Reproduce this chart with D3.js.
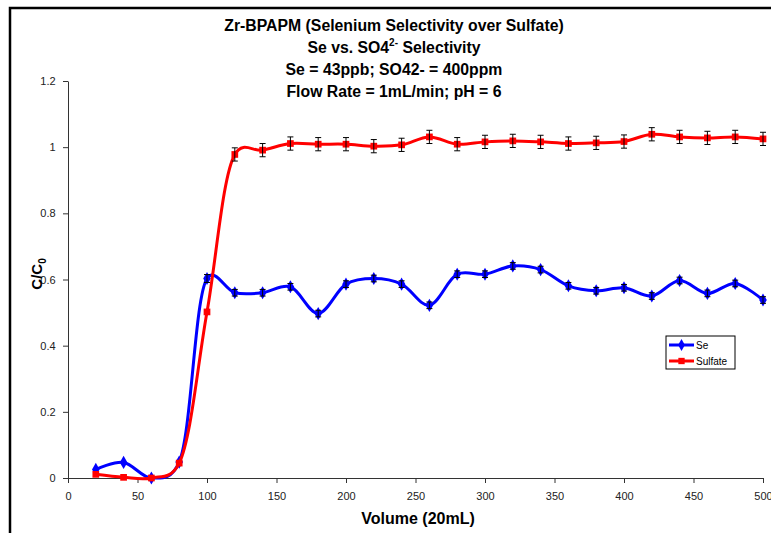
<!DOCTYPE html>
<html>
<head>
<meta charset="utf-8">
<script src="https://cdn.jsdelivr.net/npm/d3@7"></script>
<style>
body { margin: 0; background: #fff; }
svg { font-family: "Liberation Sans", Arial, sans-serif; }
</style>
</head>
<body>
<div id="graf"></div>
<script>
// volumes (x) shared by both series
var volume = [20, 40, 60, 80, 100, 120, 140, 160, 180, 200, 220, 240, 260, 280, 300, 320, 340, 360, 380, 400, 420, 440, 460, 480, 500]
var se = [0.026, 0.047, 0.0, 0.048, 0.603, 0.560, 0.560, 0.578, 0.497, 0.586, 0.603, 0.586, 0.522, 0.616, 0.616, 0.641, 0.630, 0.581, 0.566, 0.575, 0.550, 0.597, 0.558, 0.588, 0.538]
var seErr = [0, 0, 0, 0, 0.012, 0.01, 0.01, 0.01, 0.01, 0.01, 0.01, 0.01, 0.01, 0.01, 0.01, 0.01, 0.01, 0.01, 0.01, 0.01, 0.01, 0.01, 0.01, 0.01, 0.01]
var sulfate = [0.011, 0.002, 0.0, 0.045, 0.502, 0.978, 0.991, 1.011, 1.009, 1.009, 1.003, 1.007, 1.031, 1.009, 1.016, 1.019, 1.016, 1.011, 1.013, 1.017, 1.039, 1.031, 1.028, 1.031, 1.025]
var sulfateErr = [0, 0, 0, 0, 0, 0.02, 0.02, 0.02, 0.02, 0.02, 0.02, 0.02, 0.02, 0.02, 0.02, 0.02, 0.02, 0.02, 0.02, 0.02, 0.02, 0.02, 0.02, 0.02, 0.02]
var xTicks = [0, 50, 100, 150, 200, 250, 300, 350, 400, 450, 500]
var yTicks = [0, 0.2, 0.4, 0.6, 0.8, 1, 1.2]

var svg = d3.select('#graf')
            .append('svg')
            .attr('width', 771)
            .attr('height', 533)

// chart area border (runs off the right and bottom edges)
svg.append('rect')
  .attr('x', 10).attr('y', 8)
  .attr('width', 800).attr('height', 560)
  .attr('fill', 'none')
  .attr('stroke', '#000')
  .attr('stroke-width', 2.5)

var x = d3.scaleLinear().domain([0, 500]).range([68, 763])
var y = d3.scaleLinear().domain([0, 1.2]).range([478, 81])

// axes
var xAxis = svg.append('g')
  .attr('transform', 'translate(0,478)')
  .call(d3.axisBottom(x).tickValues(xTicks).tickSize(5).tickSizeOuter(0))
var yAxis = svg.append('g')
  .attr('transform', 'translate(68,0)')
  .call(d3.axisLeft(y).tickValues(yTicks).tickSize(5).tickSizeOuter(0).tickFormat(d3.format('')))

svg.selectAll('.domain, .tick line').attr('stroke', '#333')
svg.selectAll('.tick text').attr('font-size', 11).attr('fill', '#222').attr('font-family', '"Liberation Sans", Arial, sans-serif')
xAxis.selectAll('.tick text').attr('dy', '1.25em')
yAxis.selectAll('.tick text').attr('dx', '-0.4em')

// titles
var titleLines = ['Zr-BPAPM (Selenium Selectivity over Sulfate)', null, 'Se = 43ppb; SO42- = 400ppm', 'Flow Rate = 1mL/min; pH = 6']
var tg = svg.append('g').attr('font-weight', 'bold').attr('font-size', 15.8).attr('text-anchor', 'middle')
tg.append('text').attr('x', 394).attr('y', 31).text(titleLines[0])
var t2 = tg.append('text').attr('x', 394).attr('y', 53)
t2.append('tspan').text('Se vs. SO4')
t2.append('tspan').attr('font-size', 10).attr('dy', -7).text('2-')
t2.append('tspan').attr('dy', 7).text(' Selectivity')
tg.append('text').attr('x', 394).attr('y', 75).text(titleLines[2])
tg.append('text').attr('x', 394).attr('y', 97).text(titleLines[3])

svg.append('text')
  .attr('x', 418).attr('y', 524)
  .attr('text-anchor', 'middle')
  .attr('font-weight', 'bold').attr('font-size', 16)
  .text('Volume (20mL)')

var yl = svg.append('text')
  .attr('transform', 'translate(42,274) rotate(-90)')
  .attr('text-anchor', 'middle')
  .attr('font-weight', 'bold').attr('font-size', 15)
yl.append('tspan').text('C/C')
yl.append('tspan').attr('font-size', 10).attr('dy', 4).text('0')

// series
var series = [
  {name: 'Se', values: se, err: seErr, color: '#0000ff', marker: d3.symbolDiamond},
  {name: 'Sulfate', values: sulfate, err: sulfateErr, color: '#ff0000', marker: d3.symbolSquare}
]

var line = d3.line()
  .x(d => x(d[0]))
  .y(d => y(d[1]))
  .curve(d3.curveCatmullRom.alpha(0.25))

series.forEach(function(s) {
  var pts = volume.map((v, i) => [v, s.values[i], s.err[i]])
  var g = svg.append('g')
  g.append('path')
    .datum(pts)
    .attr('d', line)
    .attr('fill', 'none')
    .attr('stroke', s.color)
    .attr('stroke-width', 3)
  g.selectAll('.m')
    .data(pts)
    .join('path')
    .attr('transform', d => 'translate(' + x(d[0]) + ',' + y(d[1]) + ')')
    .attr('d', d3.symbol().type(s.marker).size(s.name == 'Se' ? 50 : 45))
    .attr('fill', s.color)
  // error bars
  var eb = g.selectAll('.e').data(pts.filter(d => d[2] > 0)).join('g')
  eb.append('line')
    .attr('x1', d => x(d[0])).attr('x2', d => x(d[0]))
    .attr('y1', d => y(d[1] - d[2])).attr('y2', d => y(d[1] + d[2]))
    .attr('stroke', '#000').attr('stroke-width', 1)
  eb.append('line')
    .attr('x1', d => x(d[0]) - 3).attr('x2', d => x(d[0]) + 3)
    .attr('y1', d => y(d[1] - d[2])).attr('y2', d => y(d[1] - d[2]))
    .attr('stroke', '#000').attr('stroke-width', 1)
  eb.append('line')
    .attr('x1', d => x(d[0]) - 3).attr('x2', d => x(d[0]) + 3)
    .attr('y1', d => y(d[1] + d[2])).attr('y2', d => y(d[1] + d[2]))
    .attr('stroke', '#000').attr('stroke-width', 1)
})

// legend
var lg = svg.append('g').attr('transform', 'translate(666,336)')
lg.append('rect').attr('width', 69).attr('height', 33).attr('fill', '#fff').attr('stroke', '#000').attr('stroke-width', 1)
series.forEach(function(s, i) {
  var yy = 9 + i * 16
  lg.append('line').attr('x1', 3).attr('x2', 28).attr('y1', yy).attr('y2', yy)
    .attr('stroke', s.color).attr('stroke-width', 3)
  lg.append('path').attr('transform', 'translate(15.5,' + yy + ')')
    .attr('d', d3.symbol().type(s.marker).size(40)).attr('fill', s.color)
  lg.append('text').attr('x', 30).attr('y', yy + 4).attr('font-size', 10).text(s.name)
})
</script>
</body>
</html>
